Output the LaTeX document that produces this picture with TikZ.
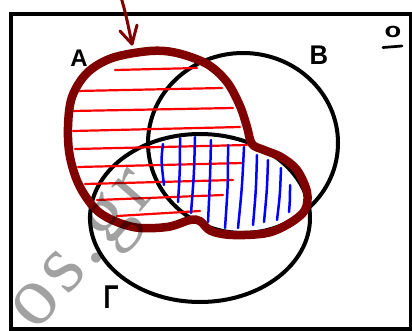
\documentclass[tikz,border=0pt]{standalone}
\usepackage{fontspec}
\setmainfont{Liberation Sans}
\newfontfamily\wmfont{Liberation Serif}
\definecolor{maroonA}{RGB}{128,0,0}
\definecolor{hatchred}{RGB}{255,0,0}
\definecolor{hatchblue}{RGB}{0,0,255}
\tikzset{
  setline/.style={line width=4pt, black},
  outlineA/.style={line width=8.5pt, maroonA, line join=round, line cap=round},
  redhatch/.style={line width=2.2pt, hatchred, line cap=round},
  bluehatch/.style={line width=2.5pt, hatchblue, line cap=round},
  lbl/.style={inner sep=0pt, text=black},
  arrowline/.style={line width=3pt, maroonA, line cap=round, line join=round},
}
\begin{document}
\begin{tikzpicture}[x=1pt, y=-1pt]
\useasboundingbox (0,0) rectangle (412,330);
\fill[white] (0,0) rectangle (412,330);
% frame
\draw[setline] (10.5,13.5) rectangle (410.5,328.5);
% circles B and Gamma
\draw[setline] (243,143) ellipse [x radius=95pt, y radius=90pt];
\draw[setline] (200,218) ellipse [x radius=110pt, y radius=84pt];
% red hatch in A
\draw[redhatch] (115,70) -- (197,68);
\draw[redhatch] (77,91) -- (222,88);
\draw[redhatch] (72,111) -- (233,108);
\draw[redhatch] (73,131) -- (240,127);
\draw[redhatch] (75,149) -- (247,145);
\draw[redhatch] (78,167) -- (243,163);
\draw[redhatch] (85,184) -- (233,180);
\draw[redhatch] (97,200) -- (223,195);
\draw[redhatch] (117,216) -- (200,211);
% blue hatch in B cap Gamma
\draw[bluehatch] (163,144) .. controls (161,160) .. (164,185);
\draw[bluehatch] (180,138) .. controls (180,170) .. (178,202);
\draw[bluehatch] (195,137) .. controls (194,175) .. (191,213);
\draw[bluehatch] (211,140) .. controls (210,180) .. (208,222);
\draw[bluehatch] (228,145) .. controls (228,185) .. (225,228);
\draw[bluehatch] (244,147) .. controls (242,188) .. (238,228);
\draw[bluehatch] (257,155) .. controls (256,190) .. (253,225);
\draw[bluehatch] (268,160) .. controls (267,190) .. (264,222);
\draw[bluehatch] (281,168) .. controls (280,195) .. (277,220);
\draw[bluehatch] (290,185) .. controls (290,200) .. (289,212);
% maroon outline
\draw[outlineA] plot[smooth cycle, tension=0.55] coordinates {
 (150,51) (177,53) (207,64) (227,82) (240,106) (247,127) (252,144)
 (264,150) (281,157) (297,170) (307,192) (305,210) (290,223) (267,233)
 (233,235) (211,231) (200,221)
 (190,220) (167,227) (133,227) (100,213) (80,187) (70,157) (68,127)
 (72,97) (87,73) (112,58)};
% arrow
\coordinate (arrtop) at (121,-3);
\coordinate (arrtip) at (132,44);
\coordinate (armL) at (120,31);
\coordinate (armR) at (137,25);
\draw[arrowline] (arrtop) .. controls (126,15) .. (arrtip);
\draw[arrowline] (armL) -- (arrtip) -- (armR);
% labels
\node[lbl, font=\bfseries\fontsize{24}{24}\selectfont] (labA) at (79,58) {A};
\node[lbl, font=\bfseries\fontsize{27}{27}\selectfont, xscale=0.95] (labB) at (319,55) {B};
\node[lbl, font=\bfseries\fontsize{33}{33}\selectfont, xscale=0.75] (labG) at (111,297) {Γ};
\node[lbl, font=\bfseries\fontsize{21}{21}\selectfont, xscale=1.3] (labO) at (393,32) {o};
\draw[line width=2.7pt, line cap=round] (383,47.5) -- (402,46);
% watermark
\node[rotate=49, text=black, text opacity=0.37, inner sep=0pt,
      font=\wmfont\fontsize{84}{84}\selectfont\addfontfeature{LetterSpace=6}] (wm) at (88,254) {os.gr};
\end{tikzpicture}
\end{document}
